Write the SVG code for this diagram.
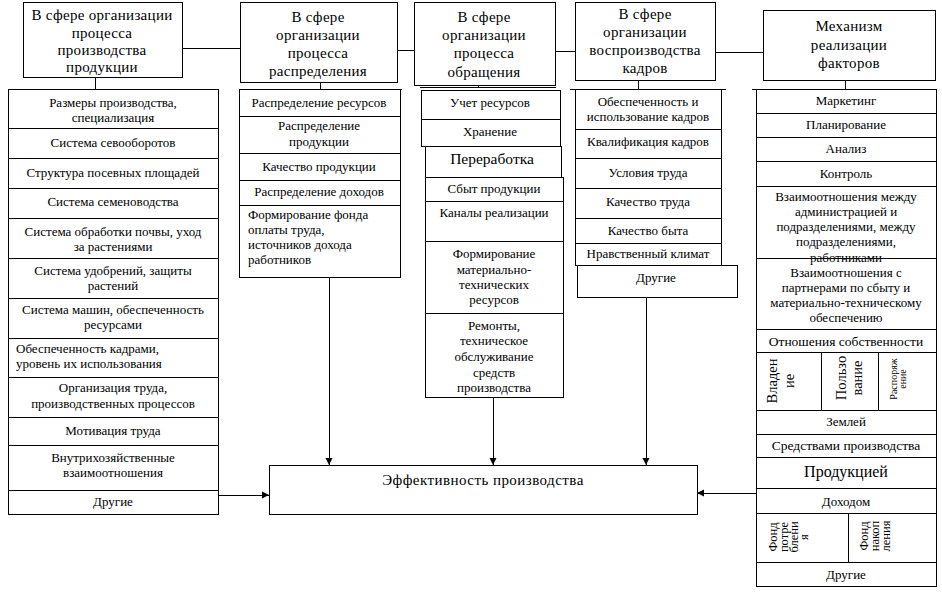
<svg xmlns="http://www.w3.org/2000/svg" width="942" height="594" viewBox="0 0 942 594">
<defs>
<marker id="arr" markerWidth="8" markerHeight="8" refX="7" refY="4" orient="auto" markerUnits="userSpaceOnUse">
<path d="M0,0.5 L7,4 L0,7.5 z" fill="#000"/>
</marker>
<style>
rect{fill:#fff;stroke:#000;stroke-width:1;shape-rendering:crispEdges}
line{stroke:#000;stroke-width:1;fill:none;shape-rendering:crispEdges}
text{font-family:"Liberation Serif","Times New Roman","DejaVu Serif",serif;font-size:13px;fill:#000;text-anchor:middle}
.h{font-size:15px;letter-spacing:0.3px}
.l{text-anchor:start}
.big{font-size:15.5px}
.m{font-size:15px;letter-spacing:0.45px}
.f{font-size:12.5px}
</style>
</defs>
<rect x="0" y="0" width="942" height="594" style="stroke:none"/>

<!-- headers -->
<g id="h1"><rect x="23" y="2" width="159" height="75"/>
<text class="h" x="102" y="20">В сфере организации</text><text class="h" x="102" y="38">процесса</text><text class="h" x="102" y="55">производства</text><text class="h" x="102" y="72">продукции</text></g>
<g id="h2"><rect x="240" y="2" width="157" height="80"/>
<text class="h" x="318" y="22">В сфере</text><text class="h" x="318" y="40">организации</text><text class="h" x="318" y="58">процесса</text><text class="h" x="318" y="76">распределения</text></g>
<g id="h3"><rect x="414" y="2" width="141" height="83"/>
<text class="h" x="484" y="22">В сфере</text><text class="h" x="484" y="40">организации</text><text class="h" x="484" y="58">процесса</text><text class="h" x="484" y="77">обращения</text></g>
<g id="h4"><rect x="575" y="2" width="140" height="78"/>
<text class="h" x="645" y="19">В сфере</text><text class="h" x="645" y="37">организации</text><text class="h" x="645" y="55">воспроизводства</text><text class="h" x="645" y="73">кадров</text></g>
<g id="h5"><rect x="763" y="10" width="172" height="70"/>
<text class="h" x="849" y="31">Механизм</text><text class="h" x="849" y="50">реализации</text><text class="h" x="849" y="68">факторов</text></g>

<!-- column 1 -->
<g id="c1-1"><rect x="8" y="89" width="210" height="39"/><text x="113" y="107">Размеры производства,</text><text x="113" y="122">специализация</text></g>
<g id="c1-2"><rect x="8" y="128" width="210" height="30"/><text x="113" y="147">Система севооборотов</text></g>
<g id="c1-3"><rect x="8" y="158" width="210" height="30"/><text x="113" y="177">Структура посевных площадей</text></g>
<g id="c1-4"><rect x="8" y="188" width="210" height="30"/><text x="113" y="206">Система семеноводства</text></g>
<g id="c1-5"><rect x="8" y="218" width="210" height="40"/><text x="113" y="236">Система обработки почвы, уход</text><text x="113" y="251">за растениями</text></g>
<g id="c1-6"><rect x="8" y="258" width="210" height="40"/><text x="113" y="275">Система  удобрений, защиты</text><text x="113" y="290">растений</text></g>
<g id="c1-7"><rect x="8" y="298" width="210" height="40"/><text x="113" y="314">Система машин, обеспеченность</text><text x="113" y="329">ресурсами</text></g>
<g id="c1-8"><rect x="8" y="338" width="210" height="39"/><text class="l" x="16" y="353">Обеспеченность кадрами,</text><text class="l" x="16" y="368">уровень их использования</text></g>
<g id="c1-9"><rect x="8" y="377" width="210" height="40"/><text x="113" y="392">Организация труда,</text><text x="113" y="408">производственных процессов</text></g>
<g id="c1-10"><rect x="8" y="417" width="210" height="28"/><text x="113" y="435">Мотивация труда</text></g>
<g id="c1-11"><rect x="8" y="445" width="210" height="45"/><text x="113" y="462">Внутрихозяйственные</text><text x="113" y="477">взаимоотношения</text></g>
<g id="c1-12"><rect x="8" y="490" width="210" height="24"/><text x="113" y="506">Другие</text></g>

<!-- column 2 -->
<g id="c2-1"><rect x="239" y="89" width="161" height="27"/><text x="319" y="107">Распределение ресурсов</text></g>
<g id="c2-2"><rect x="239" y="116" width="161" height="37"/><text x="319" y="130">Распределение</text><text x="319" y="146">продукции</text></g>
<g id="c2-3"><rect x="239" y="153" width="161" height="27"/><text x="319" y="171">Качество продукции</text></g>
<g id="c2-4"><rect x="239" y="180" width="161" height="25"/><text x="319" y="196">Распределение доходов</text></g>
<g id="c2-5"><rect x="239" y="205" width="161" height="72"/><text class="l" x="248" y="219">Формирование фонда</text><text class="l" x="248" y="234">оплаты труда,</text><text class="l" x="248" y="249">источников дохода</text><text class="l" x="248" y="264">работников</text></g>

<!-- column 3 -->
<g id="c3-1"><rect x="421" y="90" width="139" height="29"/><text x="490" y="107">Учет ресурсов</text></g>
<g id="c3-2"><rect x="421" y="119" width="139" height="27"/><text x="490" y="136">Хранение</text></g>
<g id="c3-3"><rect x="425" y="146" width="136" height="31"/><text class="big" x="492" y="164">Переработка</text></g>
<g id="c3-4"><rect x="425" y="177" width="138" height="24"/><text x="494" y="193">Сбыт продукции</text></g>
<g id="c3-5"><rect x="425" y="201" width="138" height="40"/><text x="494" y="217">Каналы реализации</text></g>
<g id="c3-6"><rect x="425" y="241" width="138" height="72"/><text x="494" y="258">Формирование</text><text x="494" y="274">материально-</text><text x="494" y="289">технических</text><text x="494" y="304">ресурсов</text></g>
<g id="c3-7"><rect x="425" y="313" width="138" height="84"/><text x="494" y="330">Ремонты,</text><text x="494" y="345">техническое</text><text x="494" y="361">обслуживание</text><text x="494" y="377">средств</text><text x="494" y="392">производства</text></g>

<!-- column 4 -->
<g id="c4-1"><rect x="575" y="89" width="146" height="40"/><text x="648" y="106">Обеспеченность и</text><text x="648" y="121">использование кадров</text></g>
<g id="c4-2"><rect x="575" y="129" width="146" height="29"/><text x="648" y="146">Квалификация кадров</text></g>
<g id="c4-3"><rect x="575" y="158" width="146" height="30"/><text x="648" y="177">Условия труда</text></g>
<g id="c4-4"><rect x="575" y="188" width="146" height="30"/><text x="648" y="206">Качество труда</text></g>
<g id="c4-5"><rect x="575" y="218" width="146" height="25"/><text x="648" y="235">Качество быта</text></g>
<g id="c4-6"><rect x="575" y="243" width="146" height="22"/><text x="648" y="258">Нравственный климат</text></g>
<g id="c4-7"><rect x="577" y="265" width="160" height="32"/><text x="656" y="282">Другие</text></g>

<!-- column 5 -->
<g id="c5-1"><rect x="756" y="89" width="180" height="24"/><text x="846" y="105">Маркетинг</text></g>
<g id="c5-2"><rect x="756" y="113" width="180" height="24"/><text x="846" y="129">Планирование</text></g>
<g id="c5-3"><rect x="756" y="137" width="180" height="24"/><text x="846" y="153">Анализ</text></g>
<g id="c5-4"><rect x="756" y="161" width="180" height="25"/><text x="846" y="178">Контроль</text></g>
<g id="c5-6"><rect x="756" y="258" width="180" height="71"/><text x="846" y="277">Взаимоотношения с</text><text x="846" y="292">партнерами по сбыту и</text><text x="846" y="307">материально-техническому</text><text x="846" y="322">обеспечению</text></g>
<g id="c5-5"><rect x="756" y="186" width="180" height="72"/><text x="846" y="201">Взаимоотношения между</text><text x="846" y="216">администрацией и</text><text x="846" y="231">подразделениями, между</text><text x="846" y="246">подразделениями,</text><text x="846" y="262">работниками</text></g>
<g id="c5-7"><rect x="756" y="329" width="180" height="23"/><text x="846" y="346" style="font-size:13.5px">Отношения собственности</text></g>
<g id="c5-8"><rect x="756" y="352" width="65" height="58"/><text transform="translate(777,381) rotate(-90)" style="font-size:14.5px">Владен</text><text transform="translate(794,381) rotate(-90)" style="font-size:14.5px">ие</text></g>
<g id="c5-9"><rect x="821" y="352" width="57" height="58"/><text transform="translate(846,378) rotate(-90)" style="font-size:14.5px">Пользо</text><text transform="translate(862,378) rotate(-90)" style="font-size:14.5px">вание</text></g>
<g id="c5-10"><rect x="878" y="352" width="58" height="58"/><text transform="translate(897,379) rotate(-90)" style="font-size:10px">Распоряж</text><text transform="translate(906,379) rotate(-90)" style="font-size:10px">ение</text></g>
<g id="c5-11"><rect x="756" y="410" width="180" height="24"/><text x="846" y="426">Землей</text></g>
<g id="c5-12"><rect x="756" y="434" width="180" height="23"/><text x="846" y="450" style="font-size:13.5px">Средствами производства</text></g>
<g id="c5-13"><rect x="756" y="457" width="180" height="31"/><text x="846" y="477" style="font-size:16px">Продукцией</text></g>
<g id="c5-14"><rect x="756" y="488" width="180" height="25"/><text x="846" y="506">Доходом</text></g>
<g id="c5-15"><rect x="756" y="513" width="92" height="49"/><text class="f" transform="translate(777,537) rotate(-90)">Фонд</text><text class="f" transform="translate(788,537) rotate(-90)">потре</text><text class="f" transform="translate(798,537) rotate(-90)">блени</text><text class="f" transform="translate(808,537) rotate(-90)">я</text></g>
<g id="c5-16"><rect x="848" y="513" width="88" height="49"/><text class="f" transform="translate(868,536) rotate(-90)">Фонд</text><text class="f" transform="translate(879,536) rotate(-90)">накоп</text><text class="f" transform="translate(890,536) rotate(-90)">ления</text></g>
<g id="c5-17"><rect x="756" y="562" width="180" height="24"/><text x="846" y="579">Другие</text></g>

<!-- main -->
<g id="main"><rect x="269" y="465" width="428" height="49"/><text class="m" x="483" y="485">Эффективность производства</text></g>

<!-- connectors -->
<g id="connectors">
<line x1="182" y1="48" x2="240" y2="48"/>
<line x1="397" y1="50" x2="414" y2="50"/>
<line x1="555" y1="51" x2="575" y2="51"/>
<line x1="715" y1="52" x2="763" y2="52"/>
<line x1="95" y1="77" x2="95" y2="89"/>
<line x1="320" y1="82" x2="320" y2="89"/>
<line x1="478" y1="85" x2="478" y2="87"/>
<line x1="638" y1="80" x2="638" y2="89"/>
<line x1="845" y1="80" x2="845" y2="89"/>
<line x1="239" y1="89" x2="402" y2="89"/>
<line x1="420" y1="87" x2="556" y2="87"/>
<line x1="570" y1="89" x2="726" y2="89"/>
<line x1="752" y1="89" x2="937" y2="89"/>
<line x1="218" y1="495" x2="269" y2="495" marker-end="url(#arr)"/>
<line x1="329" y1="277" x2="329" y2="465" marker-end="url(#arr)"/>
<line x1="493" y1="397" x2="493" y2="465" marker-end="url(#arr)"/>
<line x1="646" y1="297" x2="646" y2="465" marker-end="url(#arr)"/>
<line x1="756" y1="493" x2="697" y2="493" marker-end="url(#arr)"/>
</g>
</svg>
